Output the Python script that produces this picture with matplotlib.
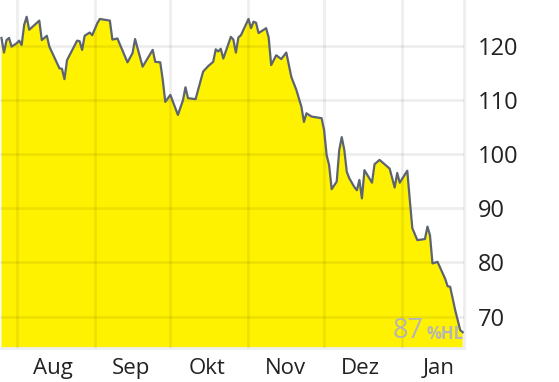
import pandas as pd
import matplotlib
matplotlib.use("Agg")
import matplotlib.pyplot as plt

# Kursverlauf
datum = ["2021-07-26", "2021-07-27", "2021-07-28", "2021-07-29", "2021-07-30",
         "2021-08-01", "2021-08-02", "2021-08-03", "2021-08-04", "2021-08-05",
         "2021-08-06", "2021-08-10", "2021-08-11", "2021-08-13", "2021-08-14",
         "2021-08-17", "2021-08-18", "2021-08-19", "2021-08-20", "2021-08-21",
         "2021-08-25", "2021-08-26", "2021-08-27", "2021-08-28", "2021-08-30",
         "2021-08-31", "2021-09-02", "2021-09-03", "2021-09-07", "2021-09-08",
         "2021-09-10", "2021-09-14", "2021-09-16", "2021-09-17", "2021-09-18",
         "2021-09-20", "2021-09-24", "2021-09-25", "2021-09-27", "2021-09-28",
         "2021-09-29", "2021-10-01", "2021-10-04", "2021-10-06", "2021-10-07",
         "2021-10-08", "2021-10-11", "2021-10-14", "2021-10-16", "2021-10-18",
         "2021-10-19", "2021-10-20", "2021-10-21", "2021-10-22", "2021-10-25",
         "2021-10-26", "2021-10-27", "2021-10-28", "2021-10-29", "2021-11-01",
         "2021-11-02", "2021-11-03", "2021-11-04", "2021-11-05", "2021-11-08",
         "2021-11-09", "2021-11-10", "2021-11-12", "2021-11-14", "2021-11-16",
         "2021-11-18", "2021-11-20", "2021-11-22", "2021-11-23", "2021-11-24",
         "2021-11-26", "2021-11-30", "2021-12-01", "2021-12-02", "2021-12-03",
         "2021-12-04", "2021-12-06", "2021-12-07", "2021-12-08", "2021-12-09",
         "2021-12-10", "2021-12-11", "2021-12-13", "2021-12-14", "2021-12-15",
         "2021-12-16", "2021-12-17", "2021-12-20", "2021-12-21", "2021-12-23",
         "2021-12-27", "2021-12-29", "2021-12-30", "2021-12-31", "2022-01-03",
         "2022-01-04", "2022-01-05", "2022-01-07", "2022-01-10", "2022-01-11",
         "2022-01-12", "2022-01-13", "2022-01-15", "2022-01-18", "2022-01-19",
         "2022-01-20", "2022-01-22", "2022-01-24", "2022-01-25"]
kurs = [121.4, 118.7, 121.0, 121.4, 119.8,
        120.4, 120.9, 120.1, 123.8, 125.3,
        122.9, 124.6, 121.0, 121.8, 119.8,
        116.8, 115.8, 115.7, 113.8, 117.3,
        120.9, 120.8, 119.2, 121.8, 122.4,
        121.9, 124.1, 124.9, 124.6, 121.1,
        121.3, 116.9, 118.6, 121.2, 119.5,
        116.1, 119.2, 117.0, 116.9, 113.6,
        109.6, 110.9, 107.2, 109.9, 112.3,
        110.3, 110.1, 115.2, 116.2, 117.0,
        119.3, 118.9, 119.4, 117.6, 121.6,
        121.1, 118.7, 121.5, 121.9, 124.9,
        123.2, 124.4, 124.2, 122.3, 123.2,
        121.5, 116.4, 118.2, 117.5, 118.7,
        114.2, 111.8, 108.7, 105.9, 107.5,
        106.9, 106.6, 104.4, 99.8, 97.9,
        93.5, 94.9, 100.7, 103.1, 100.8,
        96.7, 95.5, 93.9, 93.3, 95.2,
        91.8, 97.0, 94.7, 98.1, 98.9,
        97.3, 93.8, 96.5, 94.7, 96.9,
        91.5, 86.3, 84.1, 84.3, 86.6,
        85.0, 79.8, 80.1, 77.0, 75.6,
        75.5, 71.2, 67.5, 67.1]

monatsanfang = ["2021-08-01", "2021-09-01", "2021-10-01", "2021-11-01", "2021-12-01", "2022-01-01"]
monatsmitte = ["2021-08-15", "2021-09-15", "2021-10-15", "2021-11-15", "2021-12-15", "2022-01-15"]
monate = ["Aug", "Sep", "Okt", "Nov", "Dez", "Jan"]
y_ticks = [70, 80, 90, 100, 110, 120]
hl_wert = "87"

plt.rcParams['font.family'] = ['Open Sans', 'DejaVu Sans']

x = pd.to_datetime(datum)
fig = plt.figure(figsize=(5.59, 3.82), dpi=100)
ax = fig.add_axes([0, 34 / 382, 464 / 559, 348 / 382])

ax.fill_between(x, kurs, 0, color='#fff200', lw=0, zorder=1)
ax.plot(x, kurs, color='#5b6470', lw=1.6, zorder=3)

ax.set_xlim(pd.Timestamp("2021-07-25 10:00"), pd.Timestamp("2022-01-25 12:00"))
ax.set_ylim(64.2, 128.4)

# Gitter: Monatsanfaenge senkrecht, Kurswerte waagrecht
ax.set_xticks(pd.to_datetime(monatsanfang))
ax.set_xticks(pd.to_datetime(monatsmitte) + pd.Timedelta(hours=12), minor=True)
ax.set_xticklabels([])
ax.set_xticklabels(monate, minor=True)
ax.set_yticks(y_ticks)
ax.set_axisbelow(False)
ax.grid(True, which='major', color='black', alpha=0.065, lw=2, zorder=2)

ax.yaxis.tick_right()
ax.tick_params(axis='y', length=0, pad=10, labelsize=17, labelcolor='#222222')
ax.tick_params(axis='x', which='both', length=0, pad=7, labelsize=16, labelcolor='#222222')

for s in ['top', 'left']:
    ax.spines[s].set_visible(False)
for s in ['bottom', 'right']:
    ax.spines[s].set_color('#eeeeee')
    ax.spines[s].set_linewidth(2)

ax.text(0.914, 0.008, hl_wert, transform=ax.transAxes, ha='right', va='bottom',
        fontsize=19.5, color='#b5b5b5', zorder=4)
ax.text(0.92, 0.014, "%HL", transform=ax.transAxes, ha='left', va='bottom',
        fontsize=12, fontweight='bold', color='#b5b5b5', zorder=4)

fig.savefig("out.png", dpi=100)
